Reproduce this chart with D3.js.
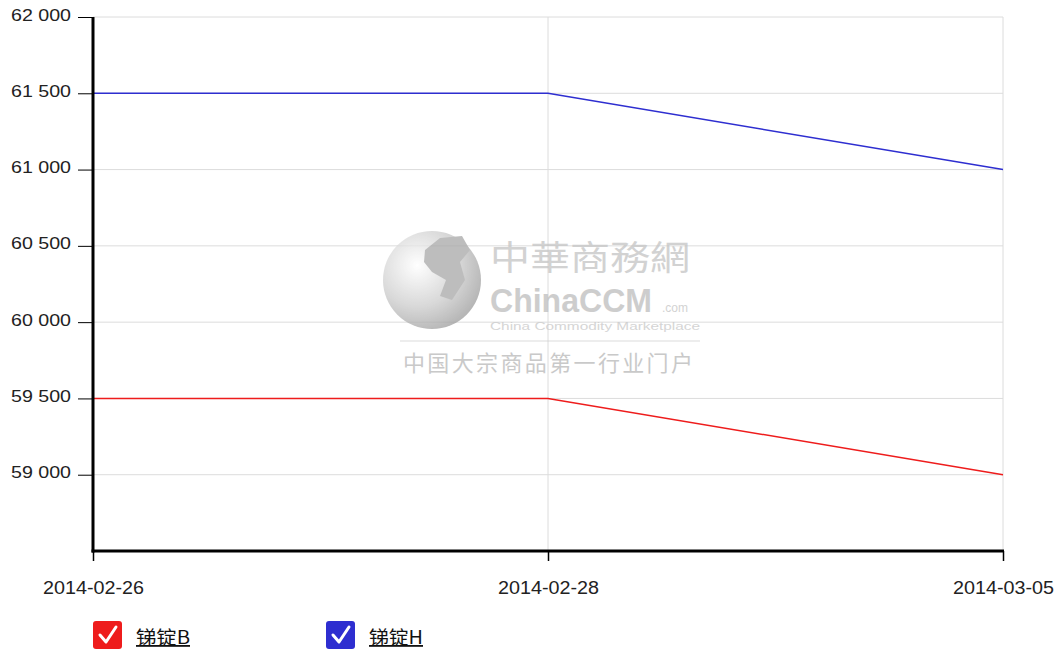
<!DOCTYPE html>
<html lang="zh">
<head>
  <meta charset="UTF-8">
  <title>锑锭价格走势</title>
  <script src="https://d3js.org/d3.v7.min.js"></script>
  <style>
    body { margin: 0; background: #fff; }
    svg { display: block; font-family: "Liberation Sans", Arial, sans-serif; }
  </style>
</head>
<body>
  <svg width="1060" height="655"></svg>

  <script>
    // data
    const dates = ["2014-02-26", "2014-02-28", "2014-03-05"];
    const seriesNames = ["锑锭B", "锑锭H"];
    const seriesColors = ["#ee1c1c", "#2e2ed0"];
    const valuesB = [59500, 59500, 59000];
    const valuesH = [61500, 61500, 61000];
    const yTicks = [59000, 59500, 60000, 60500, 61000, 61500, 62000];

    const series = [
      { name: seriesNames[0], color: seriesColors[0], values: valuesB },
      { name: seriesNames[1], color: seriesColors[1], values: valuesH }
    ];

    const svg = d3.select("svg");
    const plotLeft = 93, plotRight = 1003, plotTop = 17, plotBottom = 551;

    const x = d3.scalePoint().domain(dates).range([plotLeft, plotRight]);
    const y = d3.scaleLinear().domain([58500, 62000]).range([plotBottom, plotTop]);

    const fmt = v => d3.format(",")(v).replace(",", " ");

    // grid
    svg.append("g").selectAll("line")
      .data(yTicks)
      .enter().append("line")
      .attr("x1", plotLeft).attr("x2", plotRight)
      .attr("y1", d => y(d)).attr("y2", d => y(d))
      .attr("stroke", "#dcdcdc").attr("stroke-width", 1);

    svg.append("g").selectAll("line")
      .data(dates.slice(1))
      .enter().append("line")
      .attr("x1", d => x(d)).attr("x2", d => x(d))
      .attr("y1", plotTop).attr("y2", plotBottom)
      .attr("stroke", "#dcdcdc").attr("stroke-width", 1);

    // watermark
    const wm = svg.append("g").attr("opacity", 0.75);
    const grad = svg.append("defs").append("radialGradient")
      .attr("id", "globe").attr("cx", "35%").attr("cy", "35%").attr("r", "70%");
    grad.append("stop").attr("offset", "0%").attr("stop-color", "#ffffff");
    grad.append("stop").attr("offset", "60%").attr("stop-color", "#cccccc");
    grad.append("stop").attr("offset", "100%").attr("stop-color", "#9e9e9e");
    wm.append("circle").attr("cx", 432).attr("cy", 280).attr("r", 49).attr("fill", "url(#globe)");
    wm.append("path")
      .attr("d", "M425,250 L440,238 L462,236 L470,250 L460,262 L465,280 L452,300 L440,296 L446,280 L432,272 L424,262 Z")
      .attr("fill", "#a8a8a8");
    wm.append("text").attr("x", 490).attr("y", 270)
      .attr("font-family", "Noto Sans CJK SC").attr("font-size", 34).attr("fill", "#c4c4c4")
      .attr("textLength", 200).attr("lengthAdjust", "spacingAndGlyphs")
      .text("中華商務網");
    wm.append("text").attr("x", 490).attr("y", 312)
      .attr("font-family", "Liberation Sans").attr("font-weight", "bold").attr("font-size", 33)
      .attr("fill", "#bdbdbd").attr("textLength", 162).attr("lengthAdjust", "spacingAndGlyphs")
      .text("ChinaCCM");
    wm.append("text").attr("x", 662).attr("y", 312)
      .attr("font-size", 12).attr("fill", "#c4c4c4").text(".com");
    wm.append("text").attr("x", 490).attr("y", 330)
      .attr("font-size", 10).attr("fill", "#c8c8c8")
      .attr("textLength", 210).attr("lengthAdjust", "spacingAndGlyphs")
      .text("China Commodity Marketplace");
    wm.append("line").attr("x1", 400).attr("x2", 700).attr("y1", 341).attr("y2", 341)
      .attr("stroke", "#d0d0d0");
    wm.append("text").attr("x", 403).attr("y", 371)
      .attr("font-family", "Noto Sans CJK SC").attr("font-size", 22).attr("fill", "#b8b8b8")
      .attr("textLength", 290).text("中国大宗商品第一行业门户");

    // lines
    const line = d3.line()
      .x((d, i) => x(dates[i]))
      .y(d => y(d));

    svg.append("g").selectAll("path")
      .data(series)
      .enter().append("path")
      .attr("d", d => line(d.values))
      .attr("fill", "none")
      .attr("stroke", d => d.color)
      .attr("stroke-width", 1.5);

    // y axis
    const yAxis = d3.axisLeft(y).tickValues(yTicks).tickFormat(fmt).tickSize(15).tickPadding(7);
    const gy = svg.append("g").attr("transform", `translate(${plotLeft},0)`).call(yAxis);
    gy.select(".domain").remove();
    gy.selectAll(".tick line").attr("stroke", "#000");
    gy.selectAll(".tick text")
      .attr("font-size", 17).attr("fill", "#222").attr("dy", "0.18em")
      .attr("font-family", "Liberation Sans, Arial, sans-serif")
      .attr("textLength", 60).attr("lengthAdjust", "spacingAndGlyphs");
    svg.append("line").attr("x1", plotLeft).attr("x2", plotLeft).attr("y1", plotTop).attr("y2", plotBottom + 1.5)
      .attr("stroke", "#000").attr("stroke-width", 3);

    // x axis
    const xAxis = d3.axisBottom(x).tickSize(10).tickPadding(20);
    const gx = svg.append("g").attr("transform", `translate(0,${plotBottom})`).call(xAxis);
    gx.select(".domain").remove();
    gx.selectAll(".tick line").attr("stroke", "#000").attr("stroke-width", 1.5);
    gx.selectAll(".tick text")
      .attr("font-size", 18).attr("fill", "#222")
      .attr("font-family", "Liberation Sans, Arial, sans-serif")
      .attr("textLength", 101).attr("lengthAdjust", "spacingAndGlyphs");
    svg.append("line").attr("x1", plotLeft - 1.5).attr("x2", plotRight + 1).attr("y1", plotBottom).attr("y2", plotBottom)
      .attr("stroke", "#000").attr("stroke-width", 3);

    // legend
    const legend = svg.append("g").attr("transform", "translate(93,621)");
    const items = legend.selectAll("g")
      .data(series)
      .enter().append("g")
      .attr("transform", (d, i) => `translate(${i * 233},0)`);
    items.append("rect")
      .attr("width", 29).attr("height", 28).attr("rx", 3)
      .attr("fill", d => d.color);
    items.append("path")
      .attr("d", "M7,14 L13,21 L23,6")
      .attr("fill", "none").attr("stroke", "#fff").attr("stroke-width", 3)
      .attr("stroke-linecap", "round").attr("stroke-linejoin", "round");
    items.append("text")
      .attr("x", 43).attr("y", 23)
      .attr("font-size", 18).attr("fill", "#111")
      .attr("font-family", "Noto Sans CJK SC, sans-serif")
      .attr("text-decoration", "underline")
      .attr("textLength", 54).attr("lengthAdjust", "spacingAndGlyphs")
      .text(d => d.name);
  </script>
</body>
</html>
